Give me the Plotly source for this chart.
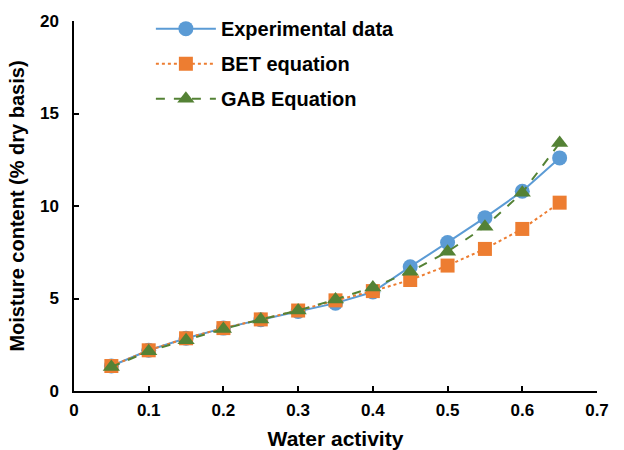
import plotly.graph_objects as go

# Sorption isotherm data
water_activity = [0.05, 0.10, 0.15, 0.20, 0.25, 0.30, 0.35, 0.40, 0.45, 0.50, 0.55, 0.60, 0.65]
experimental = [1.35, 2.2, 2.85, 3.4, 3.85, 4.3, 4.75, 5.35, 6.72, 8.03, 9.37, 10.8, 12.6]
bet_model = [1.35, 2.2, 2.85, 3.4, 3.87, 4.35, 4.9, 5.4, 6.0, 6.78, 7.68, 8.76, 10.18]
gab_model = [1.3, 2.15, 2.75, 3.35, 3.87, 4.35, 4.95, 5.6, 6.45, 7.53, 8.88, 10.72, 13.4]

x_ticks = [0, 0.1, 0.2, 0.3, 0.4, 0.5, 0.6, 0.7]
x_tick_text = ["0", "0.1", "0.2", "0.3", "0.4", "0.5", "0.6", "0.7"]
y_ticks = [0, 5, 10, 15, 20]

font_family = "Liberation Sans, Arial, sans-serif"

fig = go.Figure()
fig.add_trace(go.Scatter(
    x=water_activity, y=experimental, name="<b>Experimental data</b>",
    mode="lines+markers", legendgroup="a",
    line=dict(color="#5B9BD5", width=2, dash="solid"),
    marker=dict(symbol="circle", size=15, color="#5B9BD5"),
))
fig.add_trace(go.Scatter(
    x=water_activity, y=bet_model, name="<b>BET equation</b>",
    mode="lines+markers", legendgroup="b",
    line=dict(color="#ED7D31", width=2, dash="dot"),
    marker=dict(symbol="square", size=14, color="#ED7D31"),
))
fig.add_trace(go.Scatter(
    x=water_activity, y=gab_model, name="<b>GAB Equation</b>",
    mode="lines+markers", legendgroup="c",
    line=dict(color="#548235", width=2, dash="dash"),
    marker=dict(symbol="triangle-up", size=15, color="#548235"),
))

axis_common = dict(
    showgrid=False, zeroline=False, showline=True, linecolor="black", linewidth=1.5,
    ticks="inside", ticklen=5, tickwidth=1.5, tickcolor="black", automargin=False,
    tickfont=dict(family=font_family, size=17, color="black", weight="bold"),
)

fig.update_layout(
    width=624, height=450,
    margin=dict(l=74, r=27, t=21, b=59, autoexpand=False),
    paper_bgcolor="white", plot_bgcolor="white",
    font=dict(family=font_family, color="black"),
    xaxis=dict(
        range=[0, 0.7], tickvals=x_ticks, ticktext=x_tick_text,
        title=dict(text="<b>Water activity</b>", font=dict(size=21), standoff=12),
        ticklabelstandoff=3,
        **axis_common,
    ),
    yaxis=dict(
        range=[0, 20], tickvals=y_ticks,
        title=dict(text="<b>Moisture content (% dry basis)</b>", font=dict(size=20), standoff=10),
        ticklabelstandoff=10,
        **axis_common,
    ),
    legend=dict(
        x=0.147, y=1.032, xanchor="left", yanchor="top",
        bgcolor="rgba(0,0,0,0)", tracegroupgap=6,
        font=dict(family=font_family, size=20, color="black"),
        itemwidth=60,
    ),
    showlegend=True,
)

fig.write_html("out.html")
